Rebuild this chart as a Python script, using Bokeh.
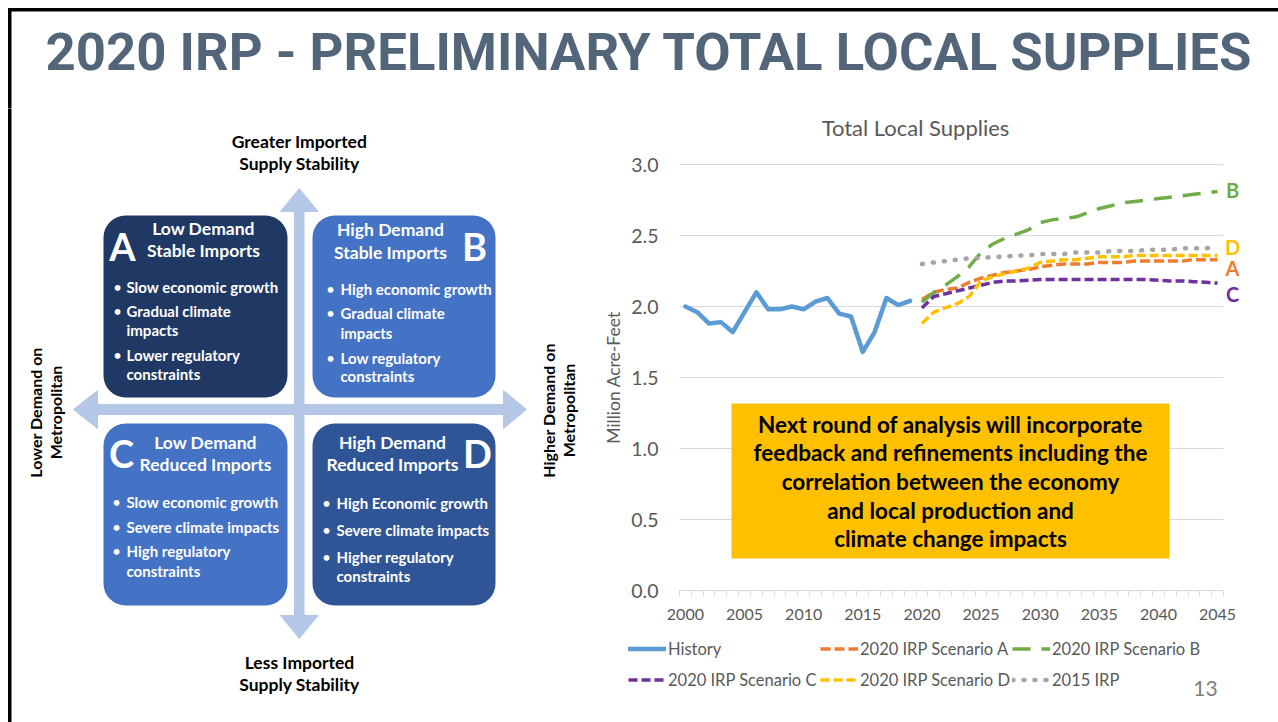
from bokeh.plotting import figure
from bokeh.models import (Range1d, FixedTicker, Label, BoxAnnotation, Legend, LegendItem,
                          NumeralTickFormatter, LinearAxis)
from bokeh.layouts import column, row
from bokeh.embed import file_html
from bokeh.resources import INLINE
from math import pi

# ---------------- data ----------------
hist_years = list(range(2000, 2020))
history = [2.00, 1.96, 1.88, 1.89, 1.82, 1.96, 2.10, 1.98, 1.98, 2.00,
           1.98, 2.035, 2.06, 1.95, 1.93, 1.68, 1.82, 2.06, 2.01, 2.04]
proj_years = list(range(2020, 2046))
scenario_a = [2.05, 2.10, 2.12, 2.13, 2.17, 2.20, 2.22, 2.24, 2.25, 2.26, 2.28, 2.29, 2.30,
              2.30, 2.30, 2.31, 2.31, 2.31, 2.32, 2.32, 2.32, 2.32, 2.32, 2.33, 2.33, 2.33]
scenario_b = [2.03, 2.10, 2.15, 2.21, 2.28, 2.38, 2.44, 2.48, 2.51, 2.54, 2.59, 2.61, 2.62,
              2.63, 2.66, 2.69, 2.71, 2.73, 2.74, 2.75, 2.76, 2.77, 2.78, 2.79, 2.80, 2.81]
scenario_c = [1.99, 2.07, 2.09, 2.11, 2.13, 2.15, 2.17, 2.18, 2.18, 2.185, 2.19, 2.19, 2.19,
              2.19, 2.19, 2.19, 2.19, 2.19, 2.19, 2.19, 2.185, 2.18, 2.18, 2.175, 2.17, 2.165]
scenario_d = [1.88, 1.96, 1.99, 2.02, 2.07, 2.18, 2.21, 2.23, 2.25, 2.27, 2.31, 2.32, 2.33,
              2.33, 2.34, 2.35, 2.35, 2.35, 2.36, 2.36, 2.36, 2.36, 2.36, 2.36, 2.36, 2.36]
irp_2015 = [2.30, 2.31, 2.32, 2.33, 2.34, 2.34, 2.35, 2.35, 2.36, 2.36, 2.37, 2.37, 2.37,
            2.38, 2.38, 2.38, 2.39, 2.39, 2.39, 2.40, 2.40, 2.40, 2.41, 2.41, 2.41, 2.42]
series_names = ["History", "2020 IRP Scenario A", "2020 IRP Scenario B",
                "2020 IRP Scenario C", "2020 IRP Scenario D", "2015 IRP"]
y_ticks = [0.0, 0.5, 1.0, 1.5, 2.0, 2.5, 3.0]
x_ticks = list(range(2000, 2046, 5))

slide_title = "2020 IRP - PRELIMINARY TOTAL LOCAL SUPPLIES"
chart_title = "Total Local Supplies"
y_label = "Million Acre-Feet"
page_number = "13"
callout_lines = ["Next round of analysis will incorporate",
                 "feedback and refinements including the",
                 "correlation between the economy",
                 "and local production and",
                 "climate change impacts"]

quadrants = {
    "A": dict(head=["Low Demand", "Stable Imports"],
              bullets=[["Slow economic growth"], ["Gradual climate", "impacts"], ["Lower regulatory", "constraints"]]),
    "B": dict(head=["High Demand", "Stable Imports"],
              bullets=[["High economic growth"], ["Gradual climate", "impacts"], ["Low regulatory", "constraints"]]),
    "C": dict(head=["Low Demand", "Reduced Imports"],
              bullets=[["Slow economic growth"], ["Severe climate impacts"], ["High regulatory", "constraints"]]),
    "D": dict(head=["High Demand", "Reduced Imports"],
              bullets=[["High Economic growth"], ["Severe climate impacts"], ["Higher regulatory", "constraints"]]),
}

# ---------------- styles ----------------
FONT = "Lato"
GRAY_TXT = "#595959"
COL_HIST = "#5B9BD5"
COL_A = "#ED7D31"
COL_B = "#70AD47"
COL_C = "#7030A0"
COL_D = "#FFC000"
COL_2015 = "#A5A5A5"
ARROW = "#B4C7E7"

W, H = 1278, 722
TITLE_H = 108
LEFT_W = 600
BODY_H = H - TITLE_H


def blank(width, height, x0, x1, y_top, y_bottom):
    f = figure(width=width, height=height, x_range=Range1d(x0, x1), y_range=Range1d(y_bottom, y_top),
               output_backend="svg", toolbar_location=None, x_axis_type=None, y_axis_type=None,
               min_border=0, outline_line_color=None)
    f.grid.visible = False
    f.background_fill_color = "white"
    f.border_fill_color = "white"
    return f


def lab(f, x, y, text, size, color="black", bold=True, align="center", angle=0, font=FONT, baseline="middle"):
    f.add_layout(Label(x=x, y=y, text=text, text_font=font, text_font_size=f"{size}px",
                       text_font_style="bold" if bold else "normal", text_color=color,
                       text_align=align, text_baseline=baseline, angle=angle))


# ---------------- title strip ----------------
tf = blank(W, TITLE_H, 0, W, 0, TITLE_H)
tf.quad(left=[8], right=[W], top=[8], bottom=[10.5], color="black")
tf.quad(left=[8], right=[10.5], top=[8], bottom=[TITLE_H], color="black")
lab(tf, 45, 51, slide_title, 52.7, color="#536579", align="left", font="Roboto")

# ---------------- left diagram ----------------
lf = blank(LEFT_W, BODY_H, 0, LEFT_W, TITLE_H, H)
lf.quad(left=[8], right=[10.5], top=[TITLE_H], bottom=[H], color="black")

# arrows
lf.quad(left=[294], right=[303.5], top=[210], bottom=[616], color=ARROW)
lf.quad(left=[96], right=[504], top=[404], bottom=[414], color=ARROW)
lf.patches(xs=[[280, 298.8, 317.6], [280, 298.8, 317.6], [97, 73, 97], [503, 526, 503]],
           ys=[[211, 188, 211], [615, 638, 615], [390, 409, 428], [390, 409, 428]], color=ARROW)

boxes = {"A": (103, 287, 215, 397, "#203864"), "B": (312, 495, 215, 397, "#4472C4"),
         "C": (103, 287, 423, 605, "#4472C4"), "D": (312, 495, 423, 605, "#2F5597")}
for k, (l, r, t, b, c) in boxes.items():
    lf.add_layout(BoxAnnotation(left=l, right=r, top=t, bottom=b, fill_color=c, fill_alpha=1,
                                line_color=None, border_radius=22))

layout_info = {
    # letter x, letter y, head center x, head y1, head y2, sep y, bullet x, text x, line ys
    "A": (122, 244, 203, 228, 250, 262, 117, 126, [[286], [310, 329], [354, 373]]),
    "B": (474, 244, 390, 229, 252, 262, 330, 340, [[288], [312, 332], [357, 375]]),
    "C": (121, 451, 205, 442, 464, 475, 116, 126, [[501], [526], [550, 570]]),
    "D": (477, 451, 392, 442, 464, 475, 326, 336, [[502], [529], [556, 575]]),
}
for k, (lx, ly, hx, hy1, hy2, sy, bx, txx, ys) in layout_info.items():
    l, r, t, b, c = boxes[k]
    lf.segment(x0=[l], x1=[r - (7 if k in "BD" else 0)], y0=[sy], y1=[sy], line_color="white", line_width=1.5)
    lab(lf, lx, ly + 1, k, 38, color="white")
    q = quadrants[k]
    lab(lf, hx, hy1, q["head"][0], 17.5, color="white")
    lab(lf, hx, hy2, q["head"][1], 17.5, color="white")
    for lines, yy in zip(q["bullets"], ys):
        lab(lf, bx, yy[0], "\u2022", 13, color="white")
        for txt, y in zip(lines, yy):
            lab(lf, txx, y, txt, 15, color="white", align="left")

lab(lf, 299, 141, "Greater Imported", 17.5)
lab(lf, 299, 163, "Supply Stability", 17.5)
lab(lf, 299, 662, "Less Imported", 17.5)
lab(lf, 299, 684, "Supply Stability", 17.5)
lab(lf, 35, 412, "Lower Demand on", 16, angle=pi / 2)
lab(lf, 55, 412, "Metropolitan", 16, angle=pi / 2)
lab(lf, 548, 410, "Higher Demand on", 16, angle=pi / 2)
lab(lf, 568, 410, "Metropolitan", 16, angle=pi / 2)

# ---------------- chart ----------------
FR_L, FR_R, FR_T, FR_B = 679, 1223, 164, 590   # page pixels of the chart plot area
X0, X1 = 1999.5, 2045.5
Y0, Y1 = 0.0, 3.0


def px2x(px):
    return X0 + (px - FR_L) * (X1 - X0) / (FR_R - FR_L)


def py2y(py):
    return Y0 + (FR_B - py) * (Y1 - Y0) / (FR_B - FR_T)


cf = figure(width=W - LEFT_W, height=BODY_H,
            x_range=Range1d(px2x(LEFT_W), px2x(W)), y_range=Range1d(py2y(H), py2y(TITLE_H)),
            output_backend="svg", toolbar_location=None, x_axis_type=None, y_axis_type=None,
            min_border=0, outline_line_color=None)
cf.background_fill_color = "white"
cf.border_fill_color = "white"
cf.grid.visible = False

# horizontal gridlines limited to the category span
cf.segment(x0=[X0] * len(y_ticks), x1=[X1] * len(y_ticks), y0=y_ticks, y1=y_ticks,
           line_color="#D9D9D9", line_width=1)

yaxis = LinearAxis(ticker=FixedTicker(ticks=y_ticks), formatter=NumeralTickFormatter(format="0.0"),
                   fixed_location=X0, bounds=(Y0, Y1), axis_label=y_label)
yaxis.axis_line_color = None
yaxis.major_tick_line_color = None
yaxis.minor_tick_line_color = None
yaxis.major_label_standoff = 15
yaxis.major_label_text_font = FONT
yaxis.major_label_text_font_size = "19.5px"
yaxis.major_label_text_color = GRAY_TXT
yaxis.axis_label_text_font = FONT
yaxis.axis_label_text_font_size = "17.5px"
yaxis.axis_label_text_font_style = "normal"
yaxis.axis_label_text_color = GRAY_TXT
yaxis.axis_label_standoff = 4
cf.add_layout(yaxis, "left")

xaxis = LinearAxis(ticker=FixedTicker(ticks=x_ticks, minor_ticks=[y + 0.5 for y in range(1999, 2046)]),
                   fixed_location=Y0, bounds=(X0, X1))
xaxis.axis_line_color = "#D9D9D9"
xaxis.major_tick_line_color = None
xaxis.minor_tick_line_color = "#D9D9D9"
xaxis.minor_tick_in = 0
xaxis.minor_tick_out = 5
xaxis.major_label_standoff = 12
xaxis.major_label_text_font = FONT
xaxis.major_label_text_font_size = "16px"
xaxis.major_label_text_color = GRAY_TXT
cf.add_layout(xaxis, "below")

r_hist = cf.line(hist_years, history, line_color=COL_HIST, line_width=4.5, line_join="round",
                 line_cap="round")
r_a = cf.line(proj_years, scenario_a, line_color=COL_A, line_width=3.5, line_dash="10 4")
r_b = cf.line(proj_years, scenario_b, line_color=COL_B, line_width=3.5, line_dash="18 11")
r_c = cf.line(proj_years, scenario_c, line_color=COL_C, line_width=3.5, line_dash="9 4")
r_d = cf.line(proj_years, scenario_d, line_color=COL_D, line_width=3.5, line_dash="9 4")
r_15 = cf.line(proj_years, irp_2015, line_color=COL_2015, line_width=4.5, line_dash="1 10",
               line_cap="round")

renderers = [r_hist, r_a, r_b, r_c, r_d, r_15]
legend = Legend(items=[LegendItem(label=n, renderers=[r]) for n, r in zip(series_names, renderers)],
                location=(628 - LEFT_W, H - 695), orientation="horizontal", ncols=3,
                glyph_width=38, glyph_height=31, label_standoff=2, label_width=152, spacing=0,
                padding=0, margin=0, border_line_color=None, background_fill_alpha=0,
                label_text_font=FONT, label_text_font_size="16.5px", label_text_color=GRAY_TXT)
cf.add_layout(legend)

# series end letters
for letter, py, col in [("B", 189, COL_B), ("D", 246, COL_D), ("A", 267, COL_A), ("C", 293, COL_C)]:
    lab(cf, px2x(1232), py2y(py), letter, 20, color=col)

lab(cf, px2x(915), py2y(127), chart_title, 22, color=GRAY_TXT, bold=False)

cf.add_layout(BoxAnnotation(left=px2x(731), right=px2x(1169), top=py2y(403), bottom=py2y(558),
                            fill_color="#FFC000", fill_alpha=1, line_color=None))
for txt, py in zip(callout_lines, [424, 452, 481, 510, 538]):
    lab(cf, px2x(950), py2y(py), txt, 22.5, color="black")

lab(cf, px2x(1205), py2y(688), page_number, 21, color="#7F7F7F", bold=False)

page = column(tf, row(lf, cf))
open("out.html", "w").write(file_html(page, INLINE))
